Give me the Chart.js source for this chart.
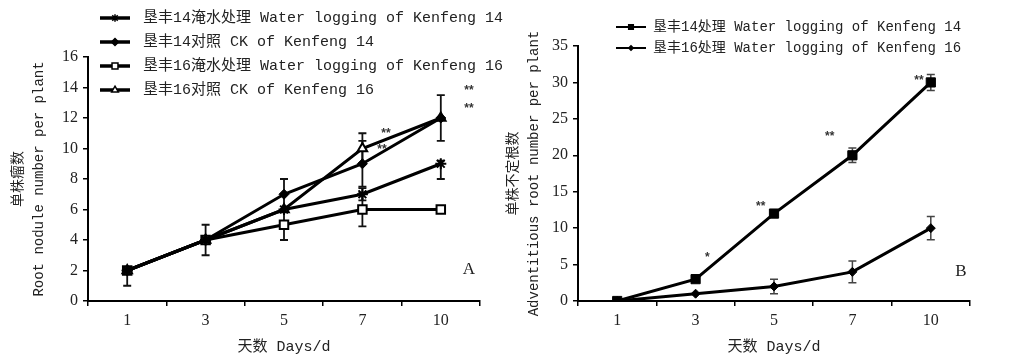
<!DOCTYPE html>
<html>
<head>
<meta charset="utf-8">
<title>Root nodules and adventitious roots under water logging</title>
<script src="https://cdn.jsdelivr.net/npm/chart.js@4.4.0/dist/chart.umd.min.js"></script>
<style>
  html, body { margin: 0; padding: 0; background: #fff; }
  #wrap { position: relative; width: 1033px; height: 355px; }
  .panel { position: absolute; top: 0; height: 355px; }
  #panelB { left: 500px; width: 533px; }
  #panelA { left: 0; width: 520px; z-index: 2; }
</style>
</head>
<body>
<div id="wrap">
  <div class="panel" id="panelB"><canvas id="chartB"></canvas></div>
  <div class="panel" id="panelA"><canvas id="chartA"></canvas></div>
</div>
<script>
// Categorias del eje x (dias)
const days = ['1', '3', '5', '7', '10'];

// Panel A: nodulos por planta
const kf14Water = [2, 4, 6, 7, 9];
const kf14Ck = [2, 4, 7, 9, 12];
const kf16Water = [2, 4, 5, 6, 6];
const kf16Ck = [2, 4, 6, 10, 12];
// barras de error [menos, mas]
const kf14WaterErr = [[0, 0], [0, 0], [0, 0], [0.4, 0.4], [1, 0.2]];
const kf14CkErr = [[1, 0.2], [1, 1], [1, 1], [1.5, 1.5], [0, 0]];
const kf16WaterErr = [[0, 0], [0, 0], [1, 1], [1.1, 1.1], [0, 0]];
const kf16CkErr = [[0, 0], [0, 0], [0, 0], [1, 1], [1.5, 1.5]];
// marcas de significancia [indice de categoria, valor, texto]
const sigA = [[3.3, 10.95, '**'], [3.25, 9.9, '**'], [4.36, 13.8, '**'], [4.36, 12.6, '**']];
const yRangeA = [0, 16, 2];

// Panel B: raices adventicias por planta
const kf14Adv = [0, 3, 12, 20, 30];
const kf16Adv = [0, 1, 2, 4, 10];
const kf14AdvErr = [[0, 0], [0.3, 0.3], [0.5, 0.5], [1, 1], [1.1, 1.1]];
const kf16AdvErr = [[0, 0], [0, 0], [1, 1], [1.5, 1.5], [1.6, 1.6]];
const sigB = [[1.15, 5.9, '*'], [1.83, 12.9, '**'], [2.71, 22.5, '**'], [3.85, 30.2, '**']];
const yRangeB = [0, 35, 5];

const monoFont = "'Liberation Mono', 'Noto Sans CJK SC', monospace";
const serifFont = "'Liberation Serif', 'Noto Sans CJK SC', serif";

// Barras de error (debajo de los marcadores)
const errorBars = {
    id: 'errorBars',
    beforeDatasetsDraw(chart, args, opts) {
        const ctx = chart.ctx;
        const yScale = chart.scales.y;
        ctx.save();
        ctx.strokeStyle = opts.color;
        ctx.lineWidth = opts.width;
        chart.data.datasets.forEach((ds, di) => {
            const meta = chart.getDatasetMeta(di);
            ds.errors.forEach((e, i) => {
                if (!e[0] && !e[1]) return;
                const x = meta.data[i].x;
                const lo = yScale.getPixelForValue(ds.data[i] - e[0]);
                const hi = yScale.getPixelForValue(ds.data[i] + e[1]);
                ctx.beginPath();
                ctx.moveTo(x, lo); ctx.lineTo(x, hi);
                if (e[0]) { ctx.moveTo(x - opts.cap, lo); ctx.lineTo(x + opts.cap, lo); }
                if (e[1]) { ctx.moveTo(x - opts.cap, hi); ctx.lineTo(x + opts.cap, hi); }
                ctx.stroke();
            });
        });
        ctx.restore();
    }
};

// Asteriscos de significancia
const sigMarks = {
    id: 'sigMarks',
    afterDatasetsDraw(chart, args, opts) {
        const ctx = chart.ctx;
        ctx.save();
        ctx.font = opts.font;
        ctx.fillStyle = opts.color;
        ctx.textAlign = 'center';
        ctx.textBaseline = 'middle';
        opts.marks.forEach(m => {
            ctx.fillText(m[2], chart.scales.x.getPixelForValue(m[0]), chart.scales.y.getPixelForValue(m[1]));
        });
        ctx.restore();
    }
};

// Letra del panel
const panelLetter = {
    id: 'panelLetter',
    afterDraw(chart, args, opts) {
        const ctx = chart.ctx;
        const area = chart.chartArea;
        ctx.save();
        ctx.font = opts.font;
        ctx.fillStyle = '#222';
        ctx.textAlign = 'center';
        ctx.textBaseline = 'middle';
        ctx.fillText(opts.text, area.right - opts.dx, area.bottom - opts.dy);
        ctx.restore();
    }
};

// Leyenda con linea + marcador
const lineLegend = {
    id: 'lineLegend',
    afterDraw(chart, args, opts) {
        const ctx = chart.ctx;
        ctx.save();
        ctx.font = opts.font;
        ctx.textBaseline = 'middle';
        chart.data.datasets.forEach((ds, i) => {
            const y = opts.y + i * opts.rowHeight;
            ctx.strokeStyle = '#000';
            ctx.lineWidth = opts.lineWidth;
            ctx.beginPath();
            ctx.moveTo(opts.x, y);
            ctx.lineTo(opts.x + opts.lineLength, y);
            ctx.stroke();
            ctx.fillStyle = ds.pointBackgroundColor;
            ctx.lineWidth = 1.5;
            Chart.helpers.drawPoint(ctx, {
                pointStyle: ds.pointStyle,
                radius: ds.pointRadius * opts.pointScale,
                borderWidth: 1.5,
                rotation: 0
            }, opts.x + opts.lineLength / 2, y);
            ctx.fillStyle = '#222';
            ctx.fillText(ds.label, opts.x + opts.lineLength + opts.textGap, y);
        });
        ctx.restore();
    }
};

function series(label, values, errors, style, radius, fill, pointBorder) {
    return {
        label: label,
        data: values,
        errors: errors,
        borderColor: '#000',
        borderWidth: 3,
        tension: 0,
        fill: false,
        pointStyle: style,
        pointRadius: radius,
        pointBackgroundColor: fill,
        pointBorderColor: '#000',
        pointBorderWidth: pointBorder
    };
}

function axes(range, yWidth, yTitle) {
    return {
        x: {
            type: 'category',
            offset: true,
            afterFit: s => { s.height = 54; },
            grid: { offset: true, drawOnChartArea: false, tickLength: 5, color: '#000', lineWidth: 1.5 },
            border: { color: '#000', width: 2 },
            ticks: { color: '#222', padding: 5, font: { family: serifFont, size: 16 } },
            title: {
                display: true,
                text: '天数 Days/d',
                color: '#222',
                font: { family: monoFont, size: 15, lineHeight: 1 },
                padding: { top: 0, bottom: 0 }
            }
        },
        y: {
            min: range[0],
            max: range[1],
            afterFit: s => { s.width = yWidth; },
            grid: { drawOnChartArea: false, tickLength: 5, color: '#000', lineWidth: 1.5 },
            border: { color: '#000', width: 2 },
            ticks: { stepSize: range[2], color: '#222', padding: 5, font: { family: serifFont, size: 16 } },
            title: {
                display: true,
                text: yTitle.text,
                color: '#222',
                font: { family: monoFont, size: 14, lineHeight: 1.5 },
                padding: { top: yTitle.pad, bottom: 0 }
            }
        }
    };
}

new Chart(document.getElementById('chartA'), {
    type: 'line',
    data: {
        labels: days,
        datasets: [
            series('垦丰14淹水处理 Water logging of Kenfeng 14', kf14Water, kf14WaterErr, 'star', 5.5, '#000', 2),
            series('垦丰14对照 CK of Kenfeng 14', kf14Ck, kf14CkErr, 'rectRot', 5, '#000', 1),
            series('垦丰16淹水处理 Water logging of Kenfeng 16', kf16Water, kf16WaterErr, 'rect', 6, '#fff', 2),
            series('垦丰16对照 CK of Kenfeng 16', kf16Ck, kf16CkErr, 'triangle', 5.5, '#fff', 2)
        ]
    },
    options: {
        responsive: true,
        maintainAspectRatio: false,
        animation: false,
        layout: { padding: { left: 0, right: 40, top: 57, bottom: 0 } },
        plugins: {
            legend: { display: false },
            tooltip: { enabled: false },
            errorBars: { color: '#111', width: 1.8, cap: 4 },
            sigMarks: { marks: sigA, font: 'bold 12px "Liberation Sans"', color: '#333' },
            panelLetter: { text: 'A', font: '17px ' + serifFont, dx: 11, dy: 31 },
            lineLegend: { x: 100, y: 18, rowHeight: 24, lineLength: 30, textGap: 13, lineWidth: 3.5, pointScale: 0.7, font: '15px ' + monoFont }
        },
        scales: axes(yRangeA, 88, { text: ['单株瘤数', 'Root nodule number per plant'], pad: 7.5 })
    },
    plugins: [errorBars, sigMarks, panelLetter, lineLegend]
});

new Chart(document.getElementById('chartB'), {
    type: 'line',
    data: {
        labels: days,
        datasets: [
            series('垦丰14处理 Water logging of Kenfeng 14', kf14Adv, kf14AdvErr, 'rect', 6.5, '#000', 1),
            series('垦丰16处理 Water logging of Kenfeng 16', kf16Adv, kf16AdvErr, 'rectRot', 4.5, '#000', 1)
        ]
    },
    options: {
        responsive: true,
        maintainAspectRatio: false,
        animation: false,
        layout: { padding: { left: 0, right: 63, top: 46, bottom: 0 } },
        plugins: {
            legend: { display: false },
            tooltip: { enabled: false },
            errorBars: { color: '#444', width: 1.5, cap: 4 },
            sigMarks: { marks: sigB, font: 'bold 12px "Liberation Sans"', color: '#333' },
            panelLetter: { text: 'B', font: '17px ' + serifFont, dx: 9, dy: 29 },
            lineLegend: { x: 116, y: 27, rowHeight: 21, lineLength: 30, textGap: 7, lineWidth: 2, pointScale: 0.5, font: '14px ' + monoFont }
        },
        scales: axes(yRangeB, 78, { text: ['单株不定根数', 'Adventitious root number per plant'], pad: 2.5 })
    },
    plugins: [errorBars, sigMarks, panelLetter, lineLegend]
});
</script>
</body>
</html>
